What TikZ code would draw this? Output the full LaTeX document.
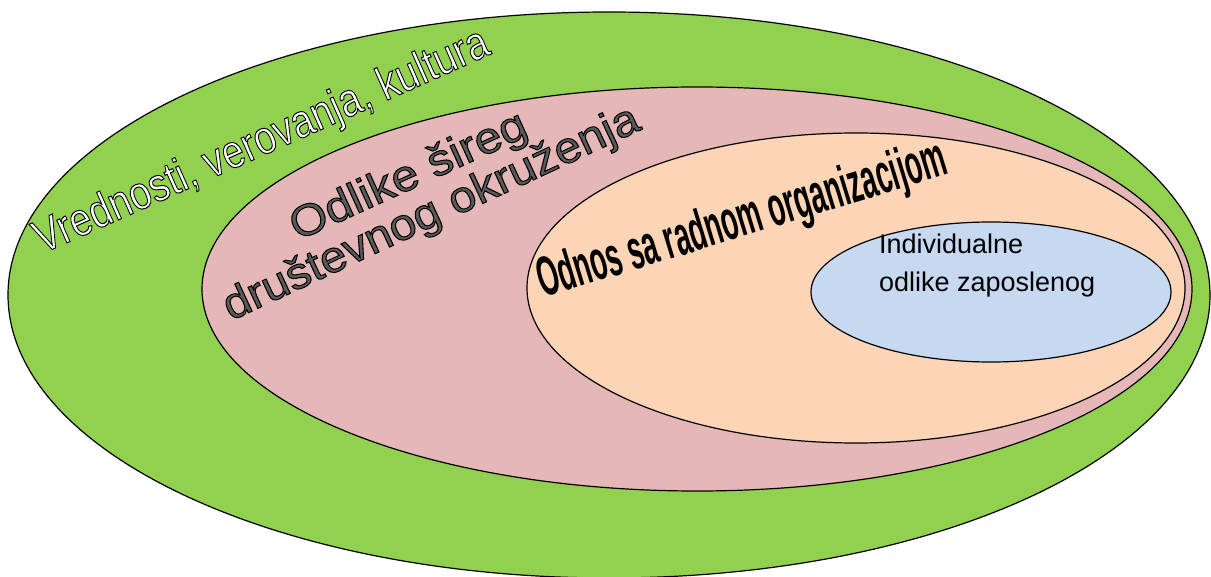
\documentclass[tikz,border=0pt]{standalone}
\usepackage{fontspec}
\setmainfont{Liberation Sans}
\usetikzlibrary{shapes.geometric}
\definecolor{outergreen}{HTML}{92D050}
\definecolor{pinkfill}{HTML}{E5B8B7}
\definecolor{orangefill}{HTML}{FBD5B5}
\definecolor{bluefill}{HTML}{C6D9F1}
\definecolor{greytext}{HTML}{5A5A5A}
% outlined text: fill in current colour, black stroke
\newcommand{\outlinedtext}[1]{\special{pdf:literal direct 2 Tr 1 w 0 0 0 RG}#1\special{pdf:literal direct 0 Tr}}
\tikzset{
  ring/.style={ellipse, draw=black, line width=1.2pt, inner sep=0pt},
  label/.style={anchor=base west, inner sep=0pt, outer sep=0pt},
}
\begin{document}
\begin{tikzpicture}[x=1pt,y=-1pt]
\useasboundingbox (0,0) rectangle (1211,577);
\node[ring, fill=outergreen, minimum width=1202pt, minimum height=566pt] (green) at (609,295) {};
\node[ring, fill=pinkfill, minimum width=990pt, minimum height=404pt] (pink) at (697,289) {};
\node[ring, fill=orangefill, minimum width=658pt, minimum height=310pt] (orange) at (856,288) {};
\node[ring, fill=bluefill, minimum width=360pt, minimum height=140pt] (blue) at (991,292) {};
% outer label
\node[label, rotate=24] (tvred) at (42,254) {\fontsize{47}{47}\selectfont\scalebox{0.83}[1]{\color{white}\outlinedtext{Vrednosti, verovanja, kultura}}};
% pink labels
\node[anchor=base, inner sep=0pt, rotate=24.5] (todl1) at (414,188) {\fontsize{44}{44}\selectfont\scalebox{1.1}[1]{\color{greytext}\outlinedtext{Odlike šireg}}};
\node[label, rotate=25] (todl2) at (231,321) {\fontsize{44}{44}\selectfont\scalebox{1.08}[1]{\color{greytext}\outlinedtext{društevnog okruženja}}};
% orange label
\node[label, rotate=17] (todn) at (543,298) {\fontsize{56}{56}\selectfont\bfseries\scalebox{0.49}[1]{Odnos sa radnom organizacijom}};
% blue label
\node[label] (tind1) at (879,254) {\fontsize{27}{27}\selectfont Individualne};
\node[label] (tind2) at (879,292) {\fontsize{27}{27}\selectfont odlike zaposlenog};
\end{tikzpicture}
\end{document}
